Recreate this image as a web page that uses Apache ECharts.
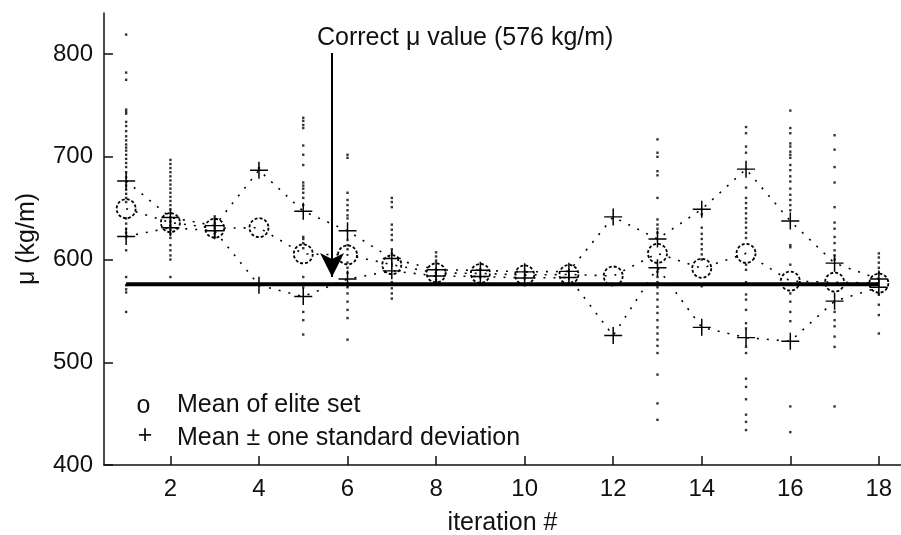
<!DOCTYPE html>
<html>
<head>
<meta charset="utf-8">
<script src="https://cdn.jsdelivr.net/npm/echarts@6/dist/echarts.min.js"></script>
<style>
  html, body { margin: 0; padding: 0; background: #fff; }
  #chart { width: 901px; height: 535px; }
</style>
</head>
<body>
<div id="chart"></div>
<script>
// Iteration numbers of the cross-entropy search
const iterations = [1, 2, 3, 4, 5, 6, 7, 8, 9, 10, 11, 12, 13, 14, 15, 16, 17, 18];

// Mean of the elite set at each iteration (kg/m)
const eliteMean = [649.5, 636, 630.5, 631, 605.5, 604.5, 595, 587, 586.5, 585, 585.5, 584, 606, 591.5, 606, 579, 578, 577];
// Mean + one standard deviation
const upperBound = [676.5, 641, 633, 687, 647, 628, 601, 590, 589.5, 588, 588.5, 641.5, 620, 649, 688, 637.5, 596.5, 581];
// Mean - one standard deviation
const lowerBound = [622.5, 631, 628, 575, 564, 581, 589, 584, 583.5, 582, 582.5, 526, 592, 534, 524, 520.5, 559.5, 573];

// Sampled mu values drawn at each iteration (one list per iteration)
const samples = [
  [819, 782, 775, 746, 744, 742, 734, 730, 725, 720, 716, 712, 709, 706, 702, 698, 694, 690, 685, 680, 676, 672, 668, 664, 660, 656, 640, 635, 630, 626, 622, 609, 583, 575, 571, 568, 549],
  [697, 693, 689, 685, 681, 677, 673, 669, 665, 661, 657, 653, 649, 645, 641, 637, 633, 629, 625, 621, 614, 609, 604, 600, 583],
  [642, 639, 636, 633, 628, 625, 622],
  [689, 576],
  [738, 735, 731, 728, 711, 702, 692, 675, 672, 669, 665, 660, 653, 622, 620, 616, 611, 583, 573, 549, 541, 527],
  [702, 699, 665, 658, 653, 648, 643, 640, 619, 614, 610, 597, 592, 587, 573, 567, 559, 551, 543, 522],
  [660, 656, 651, 634, 629, 624, 619, 610, 606, 578, 572, 567, 562],
  [607, 603, 599, 580, 578],
  [590, 583],
  [],
  [],
  [],
  [717, 704, 700, 686, 682, 660, 639, 634, 630, 626, 588, 583, 578, 573, 567, 561, 554, 548, 541, 534, 528, 522, 516, 509, 488, 460, 444],
  [644, 631, 625, 620, 615, 610, 605, 600, 574],
  [729, 723, 710, 704, 670, 660, 655, 650, 645, 640, 636, 631, 626, 621, 595, 590, 578, 566, 561, 551, 538, 533, 515, 509, 484, 476, 464, 449, 442, 434],
  [745, 728, 723, 713, 710, 705, 702, 699, 692, 687, 681, 676, 669, 663, 658, 653, 648, 614, 612, 595, 567, 559, 549, 540, 457, 432],
  [721, 707, 690, 675, 651, 636, 630, 622, 616, 609, 604, 600, 549, 541, 535, 525, 515, 457],
  [606, 602, 597, 592, 587, 566, 556, 546, 528]
];

// True value of mu and the annotation arrow (data coordinates)
const correctMu = 576;
const correctSpan = [1, 18];
const arrowX = 5.65;
const arrowTop = 801;
const arrowEnd = 583;

// Axis ticks
const xTicks = [2, 4, 6, 8, 10, 12, 14, 16, 18];
const yTicks = [400, 500, 600, 700, 800];

const FONT = '"Liberation Sans", Arial, Helvetica, sans-serif';
const INK = '#111';
const PLUS = 'path://M8.25,0H9.75V8.25H18V9.75H9.75V18H8.25V9.75H0V8.25H8.25Z';

const pairs = (ys) => iterations.map((x, i) => [x, ys[i]]);
const sampleData = [];
samples.forEach((col, i) => col.forEach(v => sampleData.push([iterations[i], v])));

const dotted = { color: '#000', width: 1.6, type: [2, 8] };

const chart = echarts.init(document.getElementById('chart'), null, { renderer: 'canvas' });
chart.setOption({
  animation: false,
  backgroundColor: '#fff',
  grid: { left: 104, right: 0, top: 13, bottom: 70, containLabel: false, outerBoundsMode: 'none' },
  xAxis: {
    type: 'value',
    min: 0.5,
    max: 18.5,
    name: 'iteration #',
    nameLocation: 'middle',
    nameGap: 46,
    nameTextStyle: { fontFamily: FONT, fontSize: 25, color: INK },
    axisLine: { onZero: false, lineStyle: { color: INK, width: 1.5 } },
    axisTick: { inside: true, length: 9, lineStyle: { color: INK, width: 1.5 }, customValues: xTicks },
    axisLabel: { fontFamily: FONT, fontSize: 24, color: INK, margin: 12, customValues: xTicks },
    splitLine: { show: false }
  },
  yAxis: {
    type: 'value',
    min: 400,
    max: 840,
    name: 'μ (kg/m)',
    nameLocation: 'middle',
    nameGap: 64,
    nameTextStyle: { fontFamily: FONT, fontSize: 25, color: INK },
    axisLine: { show: true, lineStyle: { color: INK, width: 1.5 } },
    axisTick: { show: true, inside: true, length: 9, lineStyle: { color: INK, width: 1.5 }, customValues: yTicks },
    axisLabel: { fontFamily: FONT, fontSize: 24, color: INK, margin: 11, customValues: yTicks },
    splitLine: { show: false }
  },
  series: [
    {
      name: 'samples',
      type: 'scatter',
      data: sampleData,
      symbol: 'rect',
      symbolSize: 2.4,
      itemStyle: { color: '#000' },
      silent: true,
      z: 2
    },
    {
      name: 'Correct value',
      type: 'line',
      data: correctSpan.map(x => [x, correctMu]),
      showSymbol: false,
      lineStyle: { color: '#000', width: 4 },
      silent: true,
      z: 3,
      markLine: {
        silent: true,
        symbol: ['none', 'arrow'],
        symbolSize: [18, 24],
        label: { show: false },
        lineStyle: { color: '#000', width: 2, type: 'solid' },
        data: [[{ coord: [arrowX, arrowTop] }, { coord: [arrowX, arrowEnd] }]]
      }
    },
    {
      name: 'Mean + one standard deviation',
      type: 'line',
      data: pairs(upperBound),
      symbol: PLUS,
      symbolSize: [18, 17],
      itemStyle: { color: '#000' },
      lineStyle: dotted,
      z: 4
    },
    {
      name: 'Mean - one standard deviation',
      type: 'line',
      data: pairs(lowerBound),
      symbol: PLUS,
      symbolSize: [18, 17],
      itemStyle: { color: '#000' },
      lineStyle: dotted,
      z: 4
    },
    {
      name: 'Mean of elite set',
      type: 'line',
      data: pairs(eliteMean),
      symbol: 'circle',
      symbolSize: 19,
      itemStyle: { color: 'rgba(0,0,0,0)', borderColor: '#000', borderWidth: 1.8, borderType: [3, 2] },
      lineStyle: dotted,
      z: 5
    }
  ],
  graphic: [
    { type: 'text', x: 317, y: 38, style: { text: 'Correct μ value (576 kg/m)', font: '25px ' + FONT, fill: INK, align: 'left', verticalAlign: 'middle' } },
    { type: 'text', x: 143.5, y: 406, style: { text: 'o', font: '25px ' + FONT, fill: INK, align: 'center', verticalAlign: 'middle' } },
    { type: 'text', x: 177, y: 405, style: { text: 'Mean of elite set', font: '25px ' + FONT, fill: INK, align: 'left', verticalAlign: 'middle' } },
    { type: 'text', x: 145, y: 436, style: { text: '+', font: '25px ' + FONT, fill: INK, align: 'center', verticalAlign: 'middle' } },
    { type: 'text', x: 177, y: 438, style: { text: 'Mean ± one standard deviation', font: '25px ' + FONT, fill: INK, align: 'left', verticalAlign: 'middle' } }
  ]
});
</script>
</body>
</html>
